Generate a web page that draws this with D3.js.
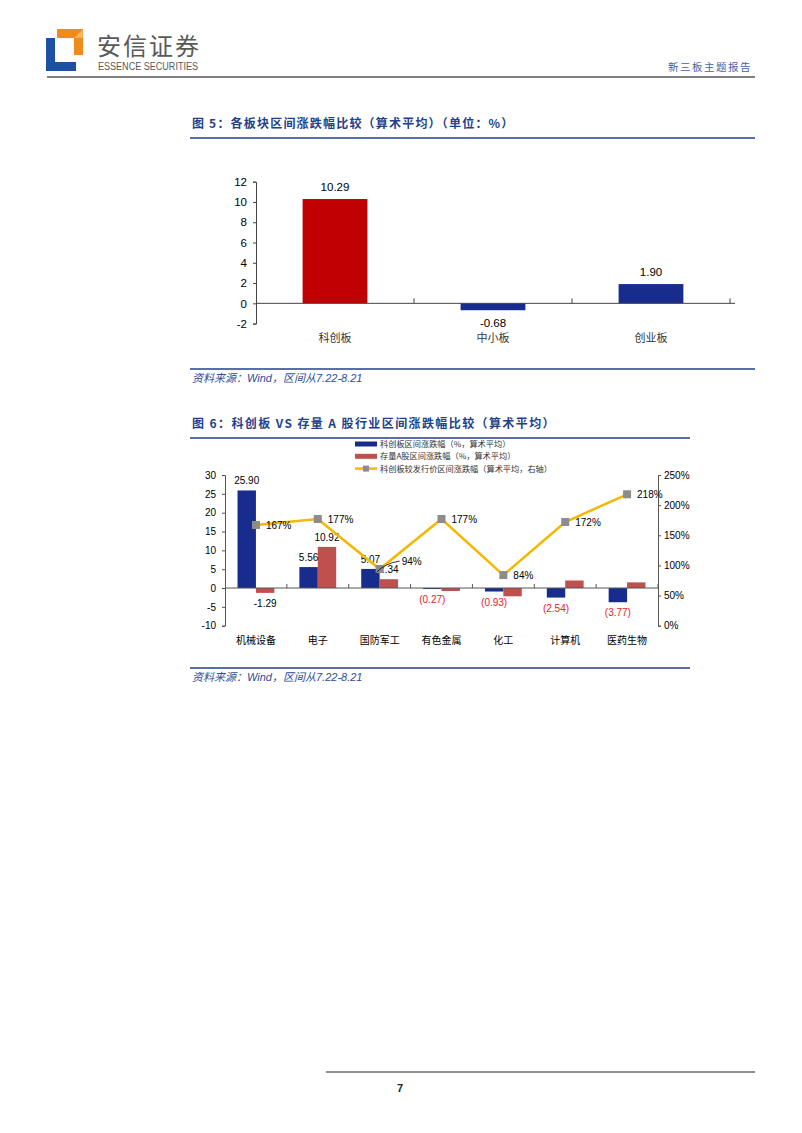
<!DOCTYPE html>
<html>
<head>
<meta charset="utf-8">
<script src="https://cdn.jsdelivr.net/npm/d3@7"></script>
<style>
body { margin: 0; background: #fff; }
text { font-family: "Liberation Sans", Arial, "Noto Sans CJK SC", sans-serif; }
.cjk { font-family: "Noto Sans CJK SC", sans-serif; }
</style>
</head>
<body>
<svg id="page"></svg>
<script>
var width = 802;
var height = 1133;

// figure 5 data
var boards = ["科创板", "中小板", "创业板"];
var boardChange = [10.29, -0.68, 1.90];
var fig5Ticks = [-2, 0, 2, 4, 6, 8, 10, 12];

// figure 6 data
var industries = ["机械设备", "电子", "国防军工", "有色金属", "化工", "计算机", "医药生物"];
var starChange = [25.90, 5.56, 5.07, -0.27, -0.93, -2.54, -3.77];
var aShareChange = [-1.29, 10.92, 2.34, -0.8, -2.2, 2.0, 1.5];
var aShareLabelled = [true, true, true, false, false, false, false];
var issueChange = [167, 177, 94, 177, 84, 172, 218];
var leftTicks = [-10, -5, 0, 5, 10, 15, 20, 25, 30];
var rightTicks = [0, 50, 100, 150, 200, 250];
var legendLabels = ["科创板区间涨跌幅（%，算术平均）", "存量A股区间涨跌幅（%，算术平均）", "科创板较发行价区间涨跌幅（算术平均，右轴）"];

var blue = "#172C8C";
var red = "#C00000";
var pink = "#C0504D";
var gold = "#F4B800";
var titleBlue = "#233F8C";

// plain hyphen for negatives, as in the source
function plain(d) { return String(d); }

var svg = d3.select("#page").attr("width", width).attr("height", height);
svg.append("rect").attr("width", width).attr("height", height).attr("fill", "#fff");

// ---- header ----
var logo = svg.append("g");
logo.append("path").attr("d", "M57,29 L83,29 L83,55 L74,55 L74,38 L57,38 Z").attr("fill", "#F08A1C");
logo.append("path").attr("d", "M74,38 L83,29 L83,38 Z").attr("fill", "#F7B25A");
logo.append("path").attr("d", "M46,38 L55,38 L55,62 L76,62 L76,71 L46,71 Z").attr("fill", "#1D4FA3");

svg.append("text").attr("class", "cjk").attr("x", 97).attr("y", 55)
   .attr("font-size", 24).attr("fill", "#595959").attr("letter-spacing", 2)
   .text("安信证券");
svg.append("text").attr("x", 98).attr("y", 70).attr("font-size", 10)
   .attr("fill", "#595959").attr("textLength", 100).attr("lengthAdjust", "spacingAndGlyphs")
   .text("ESSENCE SECURITIES");
svg.append("text").attr("class", "cjk").attr("x", 752).attr("y", 71).attr("text-anchor", "end")
   .attr("font-size", 10.5).attr("fill", "#3F5FA8").attr("letter-spacing", 1.5)
   .text("新三板主题报告");
svg.append("line").attr("x1", 47).attr("x2", 755).attr("y1", 77).attr("y2", 77)
   .attr("stroke", "#555").attr("stroke-width", 1.5);

function figTitle(y, txt, x2, spacing) {
  svg.append("text").attr("class", "cjk").attr("x", 192).attr("y", y)
     .attr("font-size", 12).attr("font-weight", "bold").attr("fill", titleBlue)
     .attr("letter-spacing", spacing).text(txt);
  svg.append("line").attr("x1", 190).attr("x2", x2).attr("y1", y + 10).attr("y2", y + 10)
     .attr("stroke", titleBlue).attr("stroke-width", 1.5);
}
function source(y, x2) {
  svg.append("line").attr("x1", 190).attr("x2", x2).attr("y1", y).attr("y2", y)
     .attr("stroke", titleBlue).attr("stroke-width", 1.5);
  var t = svg.append("text").attr("x", 192).attr("y", y + 13).attr("font-size", 11)
     .attr("font-style", "italic").attr("fill", "#2F4C96");
  t.append("tspan").attr("class", "cjk").text("资料来源：");
  t.append("tspan").text("Wind");
  t.append("tspan").attr("class", "cjk").text("，区间从");
  t.append("tspan").text("7.22-8.21");
}

// ---- figure 5 ----
figTitle(128, "图 5：各板块区间涨跌幅比较（算术平均）（单位：%）", 755, 1.2);

var x5 = d3.scaleBand().domain(boards).range([256, 730]).paddingInner(0.59).paddingOuter(0.295);
var y5 = d3.scaleLinear().domain([-2, 12]).range([323.6, 181.7]);

var g5 = svg.append("g");
g5.selectAll("rect.bar").data(boards).enter().append("rect")
  .attr("x", function(d) { return x5(d); })
  .attr("width", x5.bandwidth())
  .attr("y", function(d, i) { return y5(Math.max(0, boardChange[i])); })
  .attr("height", function(d, i) { return Math.abs(y5(boardChange[i]) - y5(0)); })
  .attr("fill", function(d, i) { return i === 0 ? red : blue; });

g5.selectAll("text.val").data(boards).enter().append("text")
  .attr("x", function(d) { return x5(d) + x5.bandwidth() / 2; })
  .attr("y", function(d, i) {
    var v = boardChange[i];
    return v >= 0 ? y5(v) - 8 : y5(v) + 17;
  })
  .attr("text-anchor", "middle").attr("font-size", 11.5).attr("fill", "#000")
  .text(function(d, i) { return boardChange[i].toFixed(2); });

var ax5 = g5.append("g").attr("transform", "translate(256,0)")
  .call(d3.axisLeft(y5).tickValues(fig5Ticks).tickSize(3).tickPadding(6).tickFormat(plain));
ax5.selectAll("text").attr("font-size", 11.5).attr("fill", "#000");
ax5.selectAll("line,path").attr("stroke", "#444");

g5.append("line").attr("x1", 256).attr("x2", 735).attr("y1", y5(0)).attr("y2", y5(0)).attr("stroke", "#444");
var step5 = x5.step();
g5.selectAll("line.ct").data(boards).enter().append("line")
  .attr("x1", function(d) { return x5(d) - step5 * 0.295 + step5; })
  .attr("x2", function(d) { return x5(d) - step5 * 0.295 + step5; })
  .attr("y1", y5(0) - 5).attr("y2", y5(0)).attr("stroke", "#444");
g5.selectAll("text.cat").data(boards).enter().append("text").attr("class", "cjk")
  .attr("x", function(d) { return x5(d) + x5.bandwidth() / 2; })
  .attr("y", 342).attr("text-anchor", "middle").attr("font-size", 11).attr("fill", "#333")
  .text(function(d) { return d; });

source(369, 755);

// ---- figure 6 ----
figTitle(428, "图 6：科创板 VS 存量 A 股行业区间涨跌幅比较（算术平均）", 690, 1.4);

var legend = svg.append("g");
legendLabels.forEach(function(label, i) {
  var ly = 444 + i * 12.3;
  if (i < 2) {
    legend.append("rect").attr("x", 355).attr("y", ly - 2.5).attr("width", 22).attr("height", 5)
      .attr("fill", i === 0 ? blue : pink);
  } else {
    legend.append("line").attr("x1", 355).attr("x2", 377).attr("y1", ly).attr("y2", ly)
      .attr("stroke", gold).attr("stroke-width", 2.5);
    legend.append("rect").attr("x", 363).attr("y", ly - 3).attr("width", 6).attr("height", 6).attr("fill", "#8C8C8C");
  }
  legend.append("text").attr("class", "cjk").attr("x", 380).attr("y", ly + 3)
    .attr("font-size", 8.2).attr("fill", "#333").text(label);
});

var x6 = d3.scaleBand().domain(industries).range([225, 658]);
var sub = d3.scaleBand().domain(["star", "ashare"]).range([0, x6.bandwidth()]).paddingOuter(0.68);
var y6 = d3.scaleLinear().domain([-10, 30]).range([625.7, 475]);
var y6r = d3.scaleLinear().domain([0, 250]).range([625.7, 475]);

var g6 = svg.append("g");
function cx(d) { return x6(d) + x6.bandwidth() / 2; }

g6.selectAll("rect.star").data(industries).enter().append("rect")
  .attr("x", function(d) { return x6(d) + sub("star"); })
  .attr("width", sub.bandwidth())
  .attr("y", function(d, i) { return y6(Math.max(0, starChange[i])); })
  .attr("height", function(d, i) { return Math.abs(y6(starChange[i]) - y6(0)); })
  .attr("fill", blue);
g6.selectAll("rect.ashare").data(industries).enter().append("rect")
  .attr("x", function(d) { return x6(d) + sub("ashare"); })
  .attr("width", sub.bandwidth())
  .attr("y", function(d, i) { return y6(Math.max(0, aShareChange[i])); })
  .attr("height", function(d, i) { return Math.abs(y6(aShareChange[i]) - y6(0)); })
  .attr("fill", pink);

// axes
var axL = g6.append("g").attr("transform", "translate(225,0)")
  .call(d3.axisLeft(y6).tickValues(leftTicks).tickSize(3).tickPadding(6).tickFormat(plain));
axL.selectAll("text").attr("font-size", 10).attr("fill", "#000");
axL.selectAll("line,path").attr("stroke", "#555");
var axR = g6.append("g").attr("transform", "translate(658,0)")
  .call(d3.axisRight(y6r).tickValues(rightTicks).tickSize(3).tickPadding(3)
    .tickFormat(function(d) { return d + "%"; }));
axR.selectAll("text").attr("font-size", 10).attr("fill", "#000");
axR.selectAll("line,path").attr("stroke", "#555");

g6.append("line").attr("x1", 225).attr("x2", 658).attr("y1", y6(0)).attr("y2", y6(0)).attr("stroke", "#555");
g6.selectAll("line.ct").data(industries).enter().append("line")
  .attr("x1", function(d) { return x6(d) + x6.step(); })
  .attr("x2", function(d) { return x6(d) + x6.step(); })
  .attr("y1", y6(0) - 4).attr("y2", y6(0)).attr("stroke", "#555");

g6.selectAll("text.cat").data(industries).enter().append("text").attr("class", "cjk")
  .attr("x", cx).attr("y", 644).attr("text-anchor", "middle")
  .attr("font-size", 10).attr("fill", "#000").text(function(d) { return d; });

// bar labels
g6.selectAll("text.sv").data(industries).enter().append("text")
  .attr("x", function(d) { return x6(d) + sub("star") + sub.bandwidth() / 2; })
  .attr("y", function(d, i) {
    var v = starChange[i];
    return v >= 0 ? y6(v) - 6 : y6(v) + 14;
  })
  .attr("text-anchor", "middle").attr("font-size", 10)
  .attr("fill", function(d, i) { return starChange[i] < 0 ? "#E8202A" : "#000"; })
  .text(function(d, i) {
    var v = starChange[i];
    return v < 0 ? "(" + Math.abs(v).toFixed(2) + ")" : v.toFixed(2);
  });
g6.selectAll("text.av").data(industries.filter(function(d, i) { return aShareLabelled[i]; }))
  .enter().append("text")
  .attr("x", function(d) { return x6(d) + sub("ashare") + sub.bandwidth() / 2; })
  .attr("y", function(d) {
    var v = aShareChange[industries.indexOf(d)];
    return v >= 0 ? y6(v) - 6 : y6(v) + 14;
  })
  .attr("text-anchor", "middle").attr("font-size", 10).attr("fill", "#000")
  .text(function(d) { return aShareChange[industries.indexOf(d)].toFixed(2); });

// line on right axis
var line = d3.line()
  .x(function(d, i) { return cx(industries[i]); })
  .y(function(d) { return y6r(d); });
g6.append("path").datum(issueChange).attr("d", line)
  .attr("fill", "none").attr("stroke", gold).attr("stroke-width", 2.5);
g6.selectAll("rect.mk").data(issueChange).enter().append("rect")
  .attr("x", function(d, i) { return cx(industries[i]) - 4; })
  .attr("y", function(d) { return y6r(d) - 4; })
  .attr("width", 8).attr("height", 8).attr("fill", "#8C8C8C");

g6.selectAll("text.lv").data(issueChange).enter().append("text")
  .attr("x", function(d, i) { return cx(industries[i]) + (i === 2 ? 22 : 10); })
  .attr("y", function(d, i) { return y6r(d) + (i === 2 ? -4 : 4); })
  .attr("font-size", 10).attr("fill", "#000")
  .text(function(d) { return d + "%"; });
// leader for the crowded 94% label
var lx = cx(industries[2]), ly = y6r(issueChange[2]);
g6.append("path")
  .attr("d", "M" + (lx - 3) + "," + (ly + 3) + " Q" + (lx + 6) + "," + (ly - 6) + " " + (lx + 20) + "," + (ly - 8))
  .attr("fill", "none").attr("stroke", "#000").attr("stroke-width", 0.8);

source(668, 690);

// ---- footer ----
svg.append("line").attr("x1", 326).attr("x2", 755).attr("y1", 1072).attr("y2", 1072)
   .attr("stroke", "#222").attr("stroke-width", 1);
svg.append("text").attr("x", 400).attr("y", 1092).attr("font-size", 11).attr("font-weight", "bold")
   .attr("fill", "#222").attr("text-anchor", "middle").text("7");
</script>
</body>
</html>
